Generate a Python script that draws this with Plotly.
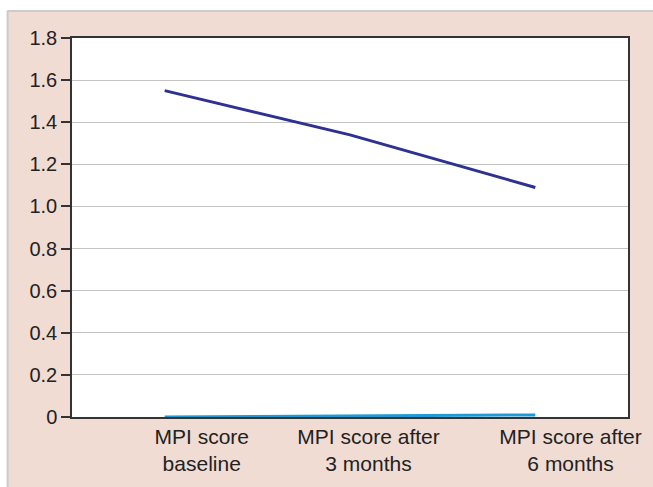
import plotly.graph_objects as go

categories = ["MPI score<br>baseline", "MPI score after<br>3 months", "MPI score after<br>6 months"]
series_a = [1.55, 1.34, 1.09]
series_b = [0.0, 0.005, 0.01]
y_ticks = [0, 0.2, 0.4, 0.6, 0.8, 1.0, 1.2, 1.4, 1.6, 1.8]
y_tick_labels = ["0", "0.2", "0.4", "0.6", "0.8", "1.0", "1.2", "1.4", "1.6", "1.8"]

x_idx = list(range(len(categories)))
label_pos = [0.2, 1.1, 2.19]

PINK = "#f0dcd3"
FONT = "Liberation Sans, Arial, sans-serif"

fig = go.Figure()
fig.add_trace(go.Scatter(x=x_idx, y=series_a, mode="lines",
                         line=dict(color="#2e3192", width=3), showlegend=False))
fig.add_trace(go.Scatter(x=x_idx, y=series_b, mode="lines",
                         line=dict(color="#1e9ad6", width=3), showlegend=False))

# plot area: x 72..634 px (562 wide), y 38..418 px (380 tall)
shapes = [
    dict(type="rect", xref="paper", yref="paper", x0=-0.2, x1=-0.1174, y0=-0.3, y1=1.2,
         fillcolor="white", line=dict(width=0)),
    dict(type="rect", xref="paper", yref="paper", x0=-0.2, x1=1.2, y0=1.0737, y1=1.2,
         fillcolor="white", line=dict(width=0)),
    dict(type="line", xref="paper", yref="paper", x0=-0.1157, x1=-0.1157, y0=-0.3, y1=1.0711,
         line=dict(color="#cccccc", width=2)),
    dict(type="line", xref="paper", yref="paper", x0=-0.1157, x1=1.1, y0=1.0711, y1=1.0711,
         line=dict(color="#cccccc", width=2)),
]

fig.update_layout(
    width=653, height=487,
    margin=dict(l=72, r=19, t=38, b=69),
    paper_bgcolor=PINK,
    plot_bgcolor="white",
    font=dict(family=FONT, size=20, color="#222222"),
    shapes=shapes,
    xaxis=dict(range=[-0.5, 2.5], tickmode="array", tickvals=label_pos, ticktext=categories,
               showgrid=False, zeroline=False, showline=True, linecolor="#333333", linewidth=1.5,
               mirror=True, ticks="", tickfont=dict(size=21, color="#222222")),
    yaxis=dict(range=[0, 1.8], tickmode="array", tickvals=y_ticks, ticktext=y_tick_labels,
               showgrid=True, gridcolor="#c4c4c4", gridwidth=1, zeroline=False,
               showline=True, linecolor="#333333", linewidth=1.5, mirror=True,
               ticks="outside", ticklen=9, tickcolor="#333333", tickwidth=1.5,
               tickfont=dict(size=20, color="#222222")),
)

fig.write_html("out.html",
               config={"displayModeBar": False},
               post_script="document.body.style.margin='0px';document.body.style.overflow='hidden';")
